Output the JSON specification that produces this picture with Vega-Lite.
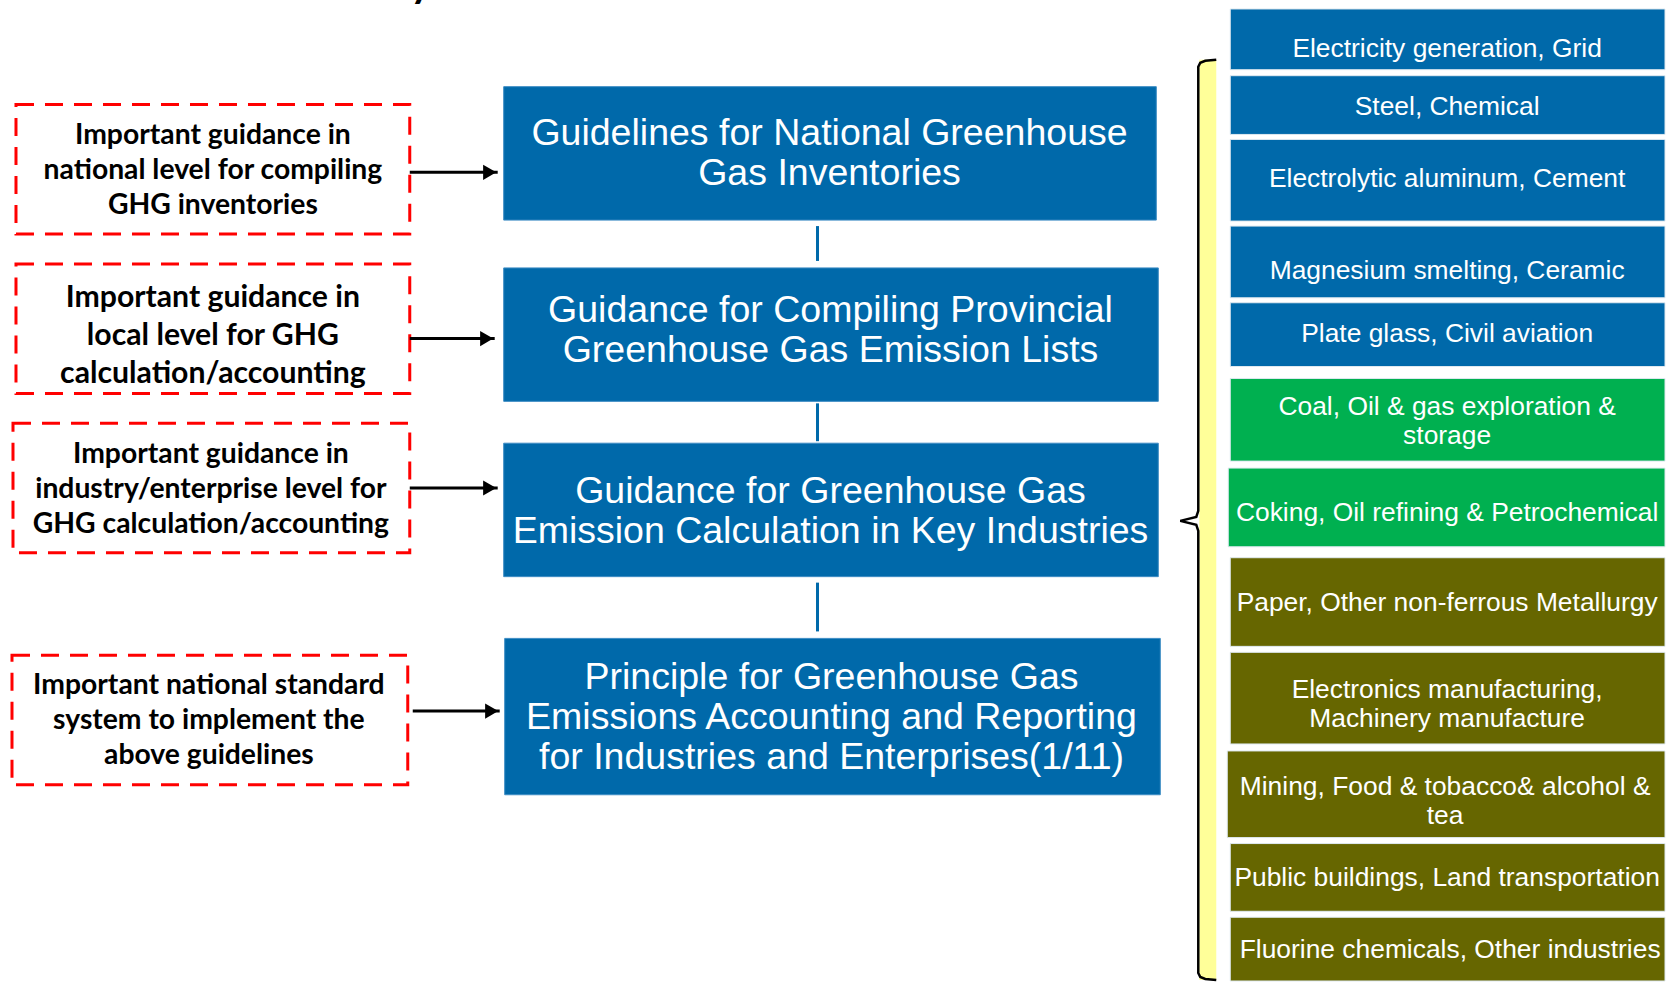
{
  "$schema": "https://vega.github.io/schema/vega-lite/v6.json",
  "width": 1666,
  "height": 985,
  "autosize": {"type": "fit", "contains": "padding"},
  "padding": 0,
  "background": "white",
  "config": {"view": {"stroke": null}},
  "datasets": {
    "notes": [
      {"x0": 16, "x1": 410, "y0": 105, "y1": 235, "xc": 213, "yc": 137, "tier": "regular", "label": "Important guidance  in\nnational level for  compiling\nGHG inventories"},
      {"x0": 16, "x1": 410, "y0": 265, "y1": 395, "xc": 213, "yc": 299, "tier": "large", "label": "Important guidance  in\nlocal level for GHG\ncalculation/accounting"},
      {"x0": 13, "x1": 410, "y0": 425, "y1": 555, "xc": 211, "yc": 457, "tier": "regular", "label": "Important guidance  in\nindustry/enterprise level for\nGHG  calculation/accounting"},
      {"x0": 12, "x1": 408, "y0": 658, "y1": 788, "xc": 209, "yc": 689, "tier": "regular", "label": "Important national standard\nsystem to implement the\nabove guidelines"}
    ],
    "arrows": [
      {"x0": 410, "x1": 498, "y": 173},
      {"x0": 410, "x1": 495, "y": 340},
      {"x0": 410, "x1": 498, "y": 490},
      {"x0": 413, "x1": 500, "y": 714}
    ],
    "guidelines": [
      {"x0": 504, "x1": 1157, "y0": 87, "y1": 221, "xc": 830, "yc": 135, "label": "Guidelines for National Greenhouse\nGas Inventories"},
      {"x0": 504, "x1": 1159, "y0": 269, "y1": 403, "xc": 831, "yc": 312, "label": "Guidance for Compiling Provincial\nGreenhouse Gas Emission Lists"},
      {"x0": 504, "x1": 1159, "y0": 445, "y1": 579, "xc": 831, "yc": 494, "label": "Guidance for Greenhouse Gas\nEmission Calculation in Key Industries"},
      {"x0": 505, "x1": 1161, "y0": 641, "y1": 798, "xc": 832, "yc": 681, "label": "Principle for Greenhouse Gas\nEmissions Accounting and Reporting\nfor Industries and Enterprises(1/11)"}
    ],
    "connectors": [
      {"x": 818, "y0": 227, "y1": 262},
      {"x": 818, "y0": 405, "y1": 443},
      {"x": 818, "y0": 585, "y1": 634}
    ],
    "strip": [
      {"x0": 1200, "x1": 1217, "y0": 60, "y1": 984}
    ],
    "brace": [
      {"seq": 1, "px": 1217, "py": 60},
      {"seq": 2, "px": 1206, "py": 61},
      {"seq": 3, "px": 1201, "py": 63},
      {"seq": 4, "px": 1199, "py": 67},
      {"seq": 5, "px": 1199, "py": 513},
      {"seq": 6, "px": 1197, "py": 519},
      {"seq": 7, "px": 1181, "py": 523},
      {"seq": 8, "px": 1197, "py": 527},
      {"seq": 9, "px": 1199, "py": 533},
      {"seq": 10, "px": 1199, "py": 977},
      {"seq": 11, "px": 1201, "py": 981},
      {"seq": 12, "px": 1206, "py": 983},
      {"seq": 13, "px": 1217, "py": 984}
    ],
    "sectors": [
      {"x0": 1231, "x1": 1666, "y0": 9, "y1": 70, "xc": 1448, "yc": 49, "batch": "First batch", "label": "Electricity generation, Grid"},
      {"x0": 1231, "x1": 1666, "y0": 76, "y1": 135, "xc": 1448, "yc": 107, "batch": "First batch", "label": "Steel, Chemical"},
      {"x0": 1231, "x1": 1666, "y0": 140, "y1": 222, "xc": 1448, "yc": 180, "batch": "First batch", "label": "Electrolytic aluminum, Cement"},
      {"x0": 1231, "x1": 1666, "y0": 227, "y1": 299, "xc": 1448, "yc": 272, "batch": "First batch", "label": "Magnesium smelting, Ceramic"},
      {"x0": 1231, "x1": 1666, "y0": 304, "y1": 368, "xc": 1448, "yc": 335, "batch": "First batch", "label": "Plate glass, Civil aviation"},
      {"x0": 1231, "x1": 1666, "y0": 380, "y1": 463, "xc": 1448, "yc": 409, "batch": "Second batch", "label": "Coal, Oil & gas exploration &\nstorage"},
      {"x0": 1229, "x1": 1666, "y0": 470, "y1": 549, "xc": 1448, "yc": 515, "batch": "Second batch", "label": "Coking, Oil refining & Petrochemical"},
      {"x0": 1231, "x1": 1666, "y0": 560, "y1": 649, "xc": 1448, "yc": 605, "batch": "Third batch", "label": "Paper, Other non-ferrous Metallurgy"},
      {"x0": 1231, "x1": 1666, "y0": 655, "y1": 747, "xc": 1448, "yc": 693, "batch": "Third batch", "label": "Electronics manufacturing,\nMachinery manufacture"},
      {"x0": 1228, "x1": 1666, "y0": 754, "y1": 841, "xc": 1446, "yc": 790, "batch": "Third batch", "label": "Mining, Food & tobacco& alcohol &\ntea"},
      {"x0": 1231, "x1": 1666, "y0": 847, "y1": 915, "xc": 1448, "yc": 882, "batch": "Third batch", "label": "Public buildings, Land transportation"},
      {"x0": 1231, "x1": 1666, "y0": 921, "y1": 985, "xc": 1451, "yc": 954, "batch": "Third batch", "label": "Fluorine chemicals, Other industries"}
    ],
    "cutTitle": [
      {"xc": 421, "yc": -3, "label": "y"}
    ]
  },
  "layer": [
    {
      "data": {"name": "notes"},
      "mark": {"type": "rect", "fill": null, "stroke": "#FF0000", "strokeWidth": 3, "strokeDash": [18, 11]},
      "encoding": {
        "x": {"field": "x0", "type": "quantitative", "axis": null, "scale": {"domain": [0, 1666], "nice": false, "zero": false}},
        "x2": {"field": "x1"},
        "y": {"field": "y0", "type": "quantitative", "axis": null, "scale": {"domain": [0, 985], "reverse": true, "nice": false, "zero": false}},
        "y2": {"field": "y1"}
      }
    },
    {
      "data": {"name": "notes"},
      "transform": [{"filter": "datum.tier == 'regular'"}],
      "mark": {"type": "text", "font": "Lato", "fontWeight": "bold", "fontSize": 28.3, "lineHeight": 35, "lineBreak": "\n", "align": "center", "baseline": "middle", "color": "#000000"},
      "encoding": {
        "x": {"field": "xc", "type": "quantitative", "axis": null, "scale": {"domain": [0, 1666], "nice": false, "zero": false}},
        "y": {"field": "yc", "type": "quantitative", "axis": null, "scale": {"domain": [0, 985], "reverse": true, "nice": false, "zero": false}},
        "text": {"field": "label"}
      }
    },
    {
      "data": {"name": "notes"},
      "transform": [{"filter": "datum.tier == 'large'"}],
      "mark": {"type": "text", "font": "Lato", "fontWeight": "bold", "fontSize": 30.2, "lineHeight": 38, "lineBreak": "\n", "align": "center", "baseline": "middle", "color": "#000000"},
      "encoding": {
        "x": {"field": "xc", "type": "quantitative", "axis": null, "scale": {"domain": [0, 1666], "nice": false, "zero": false}},
        "y": {"field": "yc", "type": "quantitative", "axis": null, "scale": {"domain": [0, 985], "reverse": true, "nice": false, "zero": false}},
        "text": {"field": "label"}
      }
    },
    {
      "data": {"name": "arrows"},
      "mark": {"type": "rule", "color": "#000000", "strokeWidth": 3},
      "encoding": {
        "x": {"field": "x0", "type": "quantitative", "axis": null, "scale": {"domain": [0, 1666], "nice": false, "zero": false}},
        "x2": {"field": "x1"},
        "y": {"field": "y", "type": "quantitative", "axis": null, "scale": {"domain": [0, 985], "reverse": true, "nice": false, "zero": false}}
      }
    },
    {
      "data": {"name": "arrows"},
      "mark": {"type": "point", "shape": "triangle-right", "filled": true, "color": "#000000", "opacity": 1, "size": 230, "xOffset": -8},
      "encoding": {
        "x": {"field": "x1", "type": "quantitative", "axis": null, "scale": {"domain": [0, 1666], "nice": false, "zero": false}},
        "y": {"field": "y", "type": "quantitative", "axis": null, "scale": {"domain": [0, 985], "reverse": true, "nice": false, "zero": false}}
      }
    },
    {
      "data": {"name": "connectors"},
      "mark": {"type": "rule", "color": "#0069AA", "strokeWidth": 3},
      "encoding": {
        "x": {"field": "x", "type": "quantitative", "axis": null, "scale": {"domain": [0, 1666], "nice": false, "zero": false}},
        "y": {"field": "y0", "type": "quantitative", "axis": null, "scale": {"domain": [0, 985], "reverse": true, "nice": false, "zero": false}},
        "y2": {"field": "y1"}
      }
    },
    {
      "data": {"name": "guidelines"},
      "mark": {"type": "rect", "color": "#0069AA", "stroke": "#3d8cc4", "strokeWidth": 1},
      "encoding": {
        "x": {"field": "x0", "type": "quantitative", "axis": null, "scale": {"domain": [0, 1666], "nice": false, "zero": false}},
        "x2": {"field": "x1"},
        "y": {"field": "y0", "type": "quantitative", "axis": null, "scale": {"domain": [0, 985], "reverse": true, "nice": false, "zero": false}},
        "y2": {"field": "y1"}
      }
    },
    {
      "data": {"name": "guidelines"},
      "mark": {"type": "text", "font": "Liberation Sans", "fontSize": 37.5, "lineHeight": 40, "lineBreak": "\n", "align": "center", "baseline": "middle", "color": "#FFFFFF"},
      "encoding": {
        "x": {"field": "xc", "type": "quantitative", "axis": null, "scale": {"domain": [0, 1666], "nice": false, "zero": false}},
        "y": {"field": "yc", "type": "quantitative", "axis": null, "scale": {"domain": [0, 985], "reverse": true, "nice": false, "zero": false}},
        "text": {"field": "label"}
      }
    },
    {
      "data": {"name": "strip"},
      "mark": {"type": "rect", "color": "#FFFF99"},
      "encoding": {
        "x": {"field": "x0", "type": "quantitative", "axis": null, "scale": {"domain": [0, 1666], "nice": false, "zero": false}},
        "x2": {"field": "x1"},
        "y": {"field": "y0", "type": "quantitative", "axis": null, "scale": {"domain": [0, 985], "reverse": true, "nice": false, "zero": false}},
        "y2": {"field": "y1"}
      }
    },
    {
      "data": {"name": "brace"},
      "mark": {"type": "line", "color": "#000000", "strokeWidth": 2.5, "interpolate": "linear"},
      "encoding": {
        "x": {"field": "px", "type": "quantitative", "axis": null, "scale": {"domain": [0, 1666], "nice": false, "zero": false}},
        "y": {"field": "py", "type": "quantitative", "axis": null, "scale": {"domain": [0, 985], "reverse": true, "nice": false, "zero": false}},
        "order": {"field": "seq", "type": "quantitative"}
      }
    },
    {
      "data": {"name": "sectors"},
      "mark": {"type": "rect", "stroke": "#dfe9f0", "strokeWidth": 1},
      "encoding": {
        "x": {"field": "x0", "type": "quantitative", "axis": null, "scale": {"domain": [0, 1666], "nice": false, "zero": false}},
        "x2": {"field": "x1"},
        "y": {"field": "y0", "type": "quantitative", "axis": null, "scale": {"domain": [0, 985], "reverse": true, "nice": false, "zero": false}},
        "y2": {"field": "y1"},
        "color": {"field": "batch", "type": "nominal", "legend": null, "scale": {"domain": ["First batch", "Second batch", "Third batch"], "range": ["#0069AA", "#00B050", "#666600"]}}
      }
    },
    {
      "data": {"name": "sectors"},
      "mark": {"type": "text", "font": "Liberation Sans", "fontSize": 26.4, "lineHeight": 29, "lineBreak": "\n", "align": "center", "baseline": "middle", "color": "#FFFFFF"},
      "encoding": {
        "x": {"field": "xc", "type": "quantitative", "axis": null, "scale": {"domain": [0, 1666], "nice": false, "zero": false}},
        "y": {"field": "yc", "type": "quantitative", "axis": null, "scale": {"domain": [0, 985], "reverse": true, "nice": false, "zero": false}},
        "text": {"field": "label"}
      }
    },
    {
      "data": {"name": "cutTitle"},
      "mark": {"type": "text", "font": "Lato", "fontWeight": "bold", "fontSize": 40, "align": "center", "baseline": "alphabetic", "color": "#000000", "clip": true},
      "encoding": {
        "x": {"field": "xc", "type": "quantitative", "axis": null, "scale": {"domain": [0, 1666], "nice": false, "zero": false}},
        "y": {"field": "yc", "type": "quantitative", "axis": null, "scale": {"domain": [0, 985], "reverse": true, "nice": false, "zero": false}},
        "text": {"field": "label"}
      }
    }
  ]
}
